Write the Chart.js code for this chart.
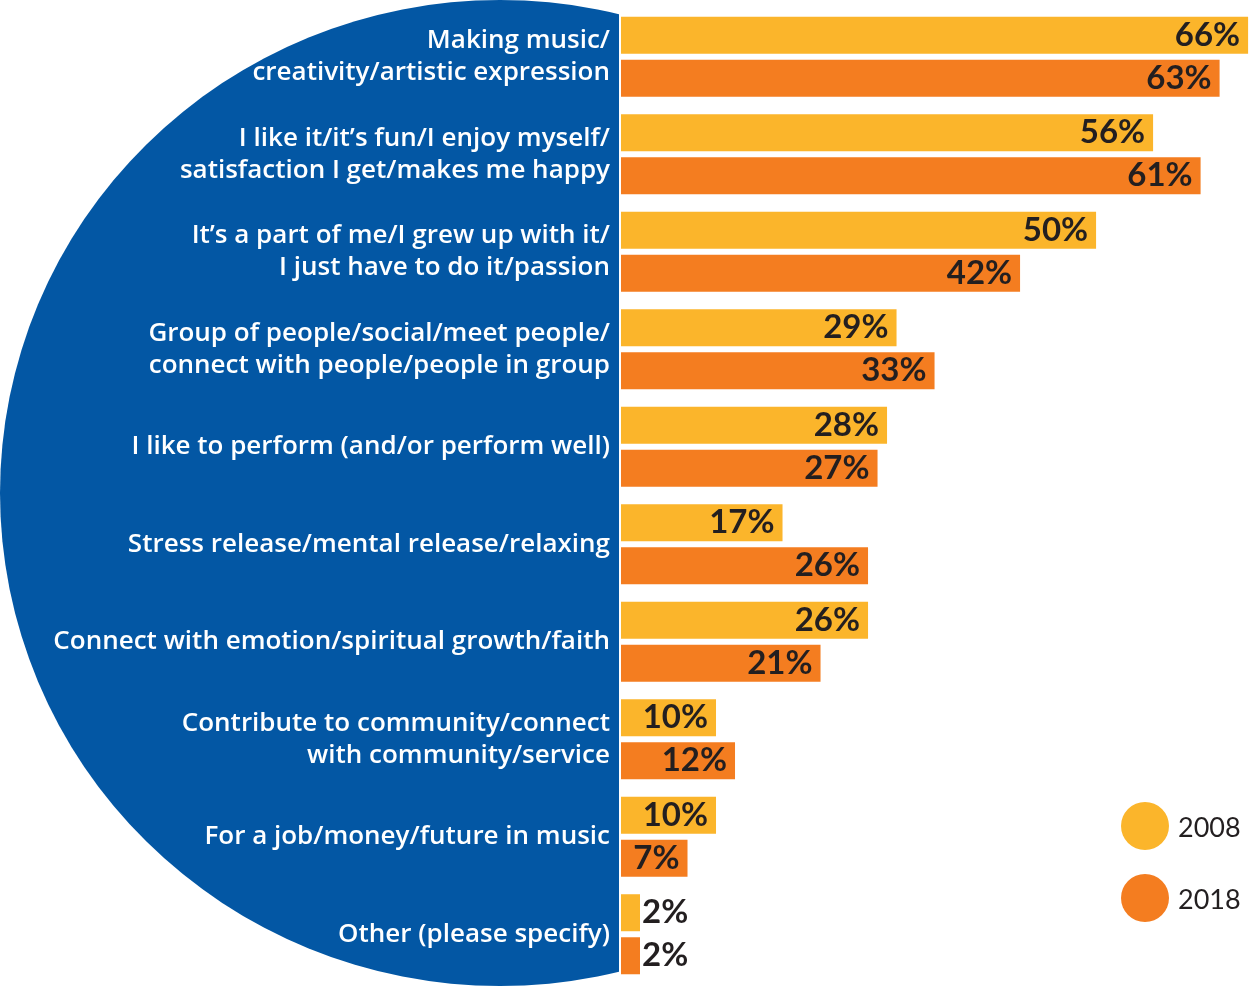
<!DOCTYPE html>
<html>
<head>
<meta charset="utf-8">
<script src="https://cdn.jsdelivr.net/npm/chart.js@4.4.1/dist/chart.umd.min.js"></script>
<style>
  html, body { margin: 0; padding: 0; background: #ffffff; }
  #wrap { width: 1250px; height: 986px; position: relative; }
</style>
</head>
<body>
<div id="wrap"><canvas id="c"></canvas></div>
<script>
// ---- data ----
const categories = [
  ["Making music/", "creativity/artistic expression"],
  ["I like it/it\u2019s fun/I enjoy myself/", "satisfaction I get/makes me happy"],
  ["It\u2019s a part of me/I grew up with it/", "I just have to do it/passion"],
  ["Group of people/social/meet people/", "connect with people/people in group"],
  "I like to perform (and/or perform well)",
  "Stress release/mental release/relaxing",
  "Connect with emotion/spiritual growth/faith",
  ["Contribute to community/connect", "with community/service"],
  "For a job/money/future in music",
  "Other (please specify)"
];
const seriesNames = ["2008", "2018"];
const values2008 = [66, 56, 50, 29, 28, 17, 26, 10, 10, 2];
const values2018 = [63, 61, 42, 33, 27, 26, 21, 12, 7, 2];

// ---- styles ----
const YELLOW = "#FBB52B";
const ORANGE = "#F47D20";
const BLUE = "#0357A4";
const DARK = "#231F20";
const LABEL_FONT = "'Open Sans', Lato, sans-serif";
const NUM_FONT = "Lato, 'Open Sans', sans-serif";

// Blue half-ellipse behind the category labels
const blueShape = {
  id: "blueShape",
  beforeDraw(chart) {
    const ctx = chart.ctx;
    const a = chart.chartArea;
    const right = a.left - 2;
    const h = chart.height;
    const cy = h / 2;
    const ry = h / 2;
    const rx = 500;
    ctx.save();
    ctx.beginPath();
    ctx.rect(0, 0, right, h);
    ctx.clip();
    ctx.beginPath();
    ctx.ellipse(rx, cy, rx, ry, 0, 0, Math.PI * 2);
    ctx.fillStyle = BLUE;
    ctx.fill();
    ctx.restore();
  }
};

// Value labels at bar ends
const valueLabels = {
  id: "valueLabels",
  afterDatasetsDraw(chart) {
    const ctx = chart.ctx;
    ctx.save();
    ctx.font = "bold 33px " + NUM_FONT;
    ctx.fillStyle = DARK;
    ctx.textBaseline = "middle";
    chart.data.datasets.forEach((ds, di) => {
      const meta = chart.getDatasetMeta(di);
      meta.data.forEach((bar, i) => {
        const txt = ds.data[i] + "%";
        const w = ctx.measureText(txt).width;
        const bw = bar.x - bar.base;
        if (w + 12 > bw) {
          ctx.textAlign = "left";
          ctx.fillText(txt, bar.x + 2, bar.y);
        } else {
          ctx.textAlign = "right";
          ctx.fillText(txt, bar.x - 8, bar.y);
        }
      });
    });
    ctx.restore();
  }
};

// Legend with round swatches
const circleLegend = {
  id: "circleLegend",
  afterDraw(chart) {
    const ctx = chart.ctx;
    ctx.save();
    const cx = 1145, y0 = 826, step = 72, r = 24;
    chart.data.datasets.forEach((ds, i) => {
      const y = y0 + i * step;
      ctx.beginPath();
      ctx.arc(cx, y, r, 0, Math.PI * 2);
      ctx.fillStyle = ds.backgroundColor;
      ctx.fill();
      ctx.fillStyle = DARK;
      ctx.font = "27px " + NUM_FONT;
      ctx.textAlign = "left";
      ctx.textBaseline = "middle";
      ctx.fillText(ds.label, cx + 33, y + 2);
    });
    ctx.restore();
  }
};

new Chart(document.getElementById("c"), {
  type: "bar",
  data: {
    labels: categories,
    datasets: [
      { label: seriesNames[0], data: values2008, backgroundColor: YELLOW },
      { label: seriesNames[1], data: values2018, backgroundColor: ORANGE }
    ]
  },
  options: {
    indexAxis: "y",
    responsive: true,
    maintainAspectRatio: false,
    animation: false,
    layout: { padding: { top: 8, bottom: 3, left: 0, right: 0 } },
    datasets: { bar: { categoryPercentage: 0.8826, barPercentage: 0.86 } },
    plugins: { legend: { display: false }, tooltip: { enabled: false } },
    scales: {
      x: { display: false, min: 0, max: 66.2 },
      y: {
        grid: { display: false, drawTicks: false },
        border: { display: false },
        afterFit(scale) {
          scale.width = 621;
          scale.paddingTop = 0;
          scale.paddingBottom = 0;
        },
        ticks: {
          color: "#ffffff",
          padding: 11,
          font: { family: LABEL_FONT, size: 26, weight: "600", lineHeight: 1.23 }
        }
      }
    }
  },
  plugins: [blueShape, valueLabels, circleLegend]
});
</script>
</body>
</html>
